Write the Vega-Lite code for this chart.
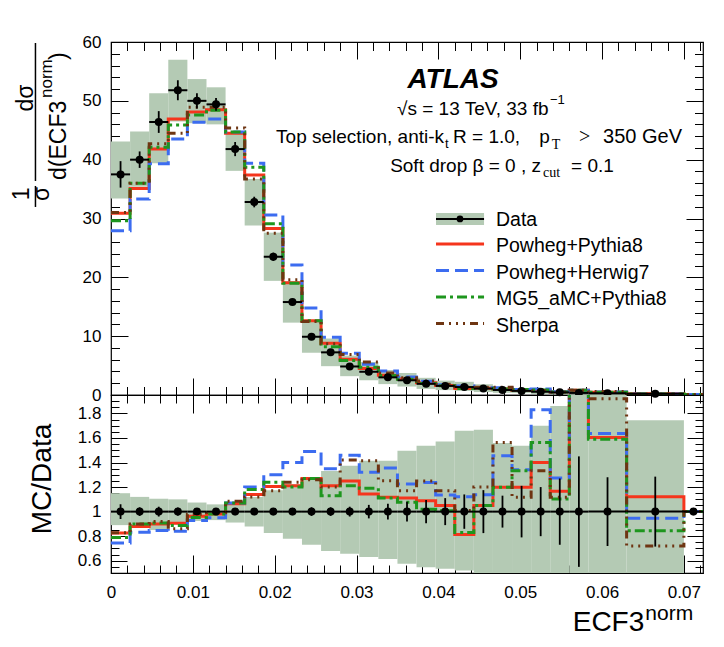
{
  "$schema": "https://vega.github.io/schema/vega-lite/v6.json",
  "padding": {"left": 10, "top": 32, "right": 5, "bottom": 5},
  "spacing": 0,
  "bounds": "flush",
  "config": {
    "view": {"stroke": "black", "strokeWidth": 1.2},
    "font": "Liberation Sans",
    "axis": {"grid": false, "domain": false, "labelFlush": false, "labelFont": "Liberation Sans", "labelFontSize": 17, "labelColor": "black", "tickColor": "black", "tickWidth": 1, "titleFont": "Liberation Sans", "titleColor": "black", "titleFontWeight": "normal", "zindex": 3},
    "text": {"font": "Liberation Sans", "color": "black"}
  },
  "datasets": {
    "hist": [
      {"lo": 0, "hi": 0.002333, "c": 0.001167, "data": 37.5, "dlo": 33.4, "dhi": 43.1, "elo": 35.25, "ehi": 39.75, "Powheg+Pythia8": 30.9, "Powheg+Herwig7": 27.9, "MG5_aMC+Pythia8": 29.6, "Sherpa": 31.0},
      {"lo": 0.002333, "hi": 0.004667, "c": 0.0035, "data": 40.0, "dlo": 35.4, "dhi": 44.8, "elo": 38.6, "ehi": 41.4, "Powheg+Pythia8": 35.1, "Powheg+Herwig7": 33.3, "MG5_aMC+Pythia8": 36.0, "Sherpa": 36.0},
      {"lo": 0.004667, "hi": 0.007, "c": 0.005833, "data": 46.4, "dlo": 39.4, "dhi": 51.3, "elo": 44.55, "ehi": 48.25, "Powheg+Pythia8": 41.8, "Powheg+Herwig7": 39.3, "MG5_aMC+Pythia8": 42.1, "Sherpa": 42.7},
      {"lo": 0.007, "hi": 0.009333, "c": 0.008167, "data": 51.8, "dlo": 46.5, "dhi": 57.0, "elo": 50.1, "ehi": 53.5, "Powheg+Pythia8": 46.9, "Powheg+Herwig7": 43.5, "MG5_aMC+Pythia8": 45.9, "Sherpa": 44.5},
      {"lo": 0.009333, "hi": 0.011667, "c": 0.0105, "data": 50.0, "dlo": 46.2, "dhi": 53.7, "elo": 48.7, "ehi": 51.3, "Powheg+Pythia8": 48.1, "Powheg+Herwig7": 46.35, "MG5_aMC+Pythia8": 47.6, "Sherpa": 48.9},
      {"lo": 0.011667, "hi": 0.014, "c": 0.012833, "data": 49.4, "dlo": 46.0, "dhi": 52.3, "elo": 48.3, "ehi": 50.5, "Powheg+Pythia8": 48.5, "Powheg+Herwig7": 46.9, "MG5_aMC+Pythia8": 48.4, "Sherpa": 48.9},
      {"lo": 0.014, "hi": 0.016333, "c": 0.015167, "data": 41.8, "dlo": 38.1, "dhi": 44.5, "elo": 40.6, "ehi": 43.0, "Powheg+Pythia8": 44.5, "Powheg+Herwig7": 44.7, "MG5_aMC+Pythia8": 44.7, "Sherpa": 45.4},
      {"lo": 0.016333, "hi": 0.018667, "c": 0.0175, "data": 32.8, "dlo": 28.8, "dhi": 36.7, "elo": 31.9, "ehi": 33.7, "Powheg+Pythia8": 37.4, "Powheg+Herwig7": 39.4, "MG5_aMC+Pythia8": 38.7, "Sherpa": 36.7},
      {"lo": 0.018667, "hi": 0.021, "c": 0.019833, "data": 23.5, "dlo": 19.4, "dhi": 27.6, "elo": 22.8, "ehi": 24.2, "Powheg+Pythia8": 28.3, "Powheg+Herwig7": 30.6, "MG5_aMC+Pythia8": 29.1, "Sherpa": 27.5},
      {"lo": 0.021, "hi": 0.023333, "c": 0.022167, "data": 15.8, "dlo": 12.3, "dhi": 19.3, "elo": 15.3, "ehi": 16.3, "Powheg+Pythia8": 19.1, "Powheg+Herwig7": 22.1, "MG5_aMC+Pythia8": 19.0, "Sherpa": 19.6},
      {"lo": 0.023333, "hi": 0.025667, "c": 0.0245, "data": 9.9, "dlo": 7.2, "dhi": 12.6, "elo": 9.55, "ehi": 10.25, "Powheg+Pythia8": 12.6, "Powheg+Herwig7": 14.8, "MG5_aMC+Pythia8": 12.6, "Sherpa": 12.5},
      {"lo": 0.025667, "hi": 0.028, "c": 0.026833, "data": 7.25, "dlo": 4.9, "dhi": 9.6, "elo": 7.0, "ehi": 7.5, "Powheg+Pythia8": 8.8, "Powheg+Herwig7": 9.8, "MG5_aMC+Pythia8": 8.2, "Sherpa": 8.7},
      {"lo": 0.028, "hi": 0.030333, "c": 0.029167, "data": 4.85, "dlo": 3.2, "dhi": 6.7, "elo": 4.66, "ehi": 5.04, "Powheg+Pythia8": 6.06, "Powheg+Herwig7": 7.08, "MG5_aMC+Pythia8": 5.87, "Sherpa": 6.89},
      {"lo": 0.030333, "hi": 0.032667, "c": 0.0315, "data": 3.95, "dlo": 2.5, "dhi": 5.6, "elo": 3.73, "ehi": 4.17, "Powheg+Pythia8": 4.52, "Powheg+Herwig7": 5.21, "MG5_aMC+Pythia8": 4.7, "Sherpa": 5.59},
      {"lo": 0.032667, "hi": 0.035, "c": 0.033833, "data": 3.0, "dlo": 1.85, "dhi": 4.25, "elo": 2.8, "ehi": 3.2, "Powheg+Pythia8": 3.35, "Powheg+Herwig7": 4.07, "MG5_aMC+Pythia8": 3.33, "Sherpa": 3.76},
      {"lo": 0.035, "hi": 0.037333, "c": 0.036167, "data": 2.5, "dlo": 1.44, "dhi": 3.74, "elo": 2.3, "ehi": 2.7, "Powheg+Pythia8": 2.78, "Powheg+Herwig7": 3.06, "MG5_aMC+Pythia8": 2.69, "Sherpa": 2.93},
      {"lo": 0.037333, "hi": 0.039667, "c": 0.0385, "data": 1.9, "dlo": 1.04, "dhi": 2.92, "elo": 1.72, "ehi": 2.08, "Powheg+Pythia8": 2.07, "Powheg+Herwig7": 2.35, "MG5_aMC+Pythia8": 1.94, "Sherpa": 2.38},
      {"lo": 0.039667, "hi": 0.042, "c": 0.040833, "data": 1.55, "dlo": 0.83, "dhi": 2.44, "elo": 1.38, "ehi": 1.72, "Powheg+Pythia8": 1.63, "Powheg+Herwig7": 1.76, "MG5_aMC+Pythia8": 1.56, "Sherpa": 1.81},
      {"lo": 0.042, "hi": 0.044333, "c": 0.043167, "data": 1.35, "dlo": 0.7, "dhi": 2.24, "elo": 1.16, "ehi": 1.54, "Powheg+Pythia8": 1.1, "Powheg+Herwig7": 1.51, "MG5_aMC+Pythia8": 1.12, "Sherpa": 1.36},
      {"lo": 0.044333, "hi": 0.046667, "c": 0.0455, "data": 1.1, "dlo": 0.5, "dhi": 1.83, "elo": 0.91, "ehi": 1.29, "Powheg+Pythia8": 1.15, "Powheg+Herwig7": 1.25, "MG5_aMC+Pythia8": 1.16, "Sherpa": 1.32},
      {"lo": 0.046667, "hi": 0.049, "c": 0.047833, "data": 0.85, "dlo": 0.37, "dhi": 1.33, "elo": 0.74, "ehi": 0.96, "Powheg+Pythia8": 1.02, "Powheg+Herwig7": 1.24, "MG5_aMC+Pythia8": 1.02, "Sherpa": 1.33},
      {"lo": 0.049, "hi": 0.051333, "c": 0.050167, "data": 0.7, "dlo": 0.32, "dhi": 1.08, "elo": 0.55, "ehi": 0.85, "Powheg+Pythia8": 0.84, "Powheg+Herwig7": 0.94, "MG5_aMC+Pythia8": 0.93, "Sherpa": 0.78},
      {"lo": 0.051333, "hi": 0.053667, "c": 0.0525, "data": 0.55, "dlo": 0.17, "dhi": 0.94, "elo": 0.44, "ehi": 0.66, "Powheg+Pythia8": 0.77, "Powheg+Herwig7": 1.01, "MG5_aMC+Pythia8": 0.86, "Sherpa": 0.73},
      {"lo": 0.053667, "hi": 0.056, "c": 0.054833, "data": 0.45, "dlo": 0.06, "dhi": 0.84, "elo": 0.33, "ehi": 0.57, "Powheg+Pythia8": 0.52, "Powheg+Herwig7": 0.57, "MG5_aMC+Pythia8": 0.5, "Sherpa": 0.5},
      {"lo": 0.056, "hi": 0.058333, "c": 0.057167, "data": 0.35, "dlo": 0.0, "dhi": 0.7, "elo": 0.19, "ehi": 0.51, "Powheg+Pythia8": 0.8, "Powheg+Herwig7": 0.82, "MG5_aMC+Pythia8": 0.79, "Sherpa": 0.81},
      {"lo": 0.058333, "hi": 0.063, "c": 0.060667, "data": 0.3, "dlo": 0.0, "dhi": 0.6, "elo": 0.22, "ehi": 0.38, "Powheg+Pythia8": 0.48, "Powheg+Herwig7": 0.49, "MG5_aMC+Pythia8": 0.48, "Sherpa": 0.58},
      {"lo": 0.063, "hi": 0.07, "c": 0.0665, "data": 0.2, "dlo": 0.05, "dhi": 0.35, "elo": 0.14, "ehi": 0.26, "Powheg+Pythia8": 0.22, "Powheg+Herwig7": 0.19, "MG5_aMC+Pythia8": 0.17, "Sherpa": 0.14},
      {"lo": 0.07, "hi": 0.072333, "c": 0.071167, "data": null, "dlo": null, "dhi": null, "elo": null, "ehi": null, "Powheg+Pythia8": 0.1, "Powheg+Herwig7": 0.1, "MG5_aMC+Pythia8": 0.1, "Sherpa": 0.1},
      {"lo": 0.072333, "hi": null, "c": null, "data": null, "dlo": null, "dhi": null, "elo": null, "ehi": null, "Powheg+Pythia8": 0.1, "Powheg+Herwig7": 0.1, "MG5_aMC+Pythia8": 0.1, "Sherpa": 0.1}
    ],
    "ratio": [
      {"lo": 0, "hi": 0.002333, "c": 0.001167, "one": 1, "blo": 0.89, "bhi": 1.15, "elo": 0.94, "ehi": 1.06, "Powheg+Pythia8": 0.825, "Powheg+Herwig7": 0.745, "MG5_aMC+Pythia8": 0.79, "Sherpa": 0.827},
      {"lo": 0.002333, "hi": 0.004667, "c": 0.0035, "one": 1, "blo": 0.885, "bhi": 1.12, "elo": 0.965, "ehi": 1.035, "Powheg+Pythia8": 0.878, "Powheg+Herwig7": 0.832, "MG5_aMC+Pythia8": 0.9, "Sherpa": 0.9},
      {"lo": 0.004667, "hi": 0.007, "c": 0.005833, "one": 1, "blo": 0.85, "bhi": 1.105, "elo": 0.96, "ehi": 1.04, "Powheg+Pythia8": 0.9, "Powheg+Herwig7": 0.846, "MG5_aMC+Pythia8": 0.908, "Sherpa": 0.92},
      {"lo": 0.007, "hi": 0.009333, "c": 0.008167, "one": 1, "blo": 0.897, "bhi": 1.1, "elo": 0.967, "ehi": 1.033, "Powheg+Pythia8": 0.905, "Powheg+Herwig7": 0.84, "MG5_aMC+Pythia8": 0.886, "Sherpa": 0.86},
      {"lo": 0.009333, "hi": 0.011667, "c": 0.0105, "one": 1, "blo": 0.924, "bhi": 1.074, "elo": 0.974, "ehi": 1.026, "Powheg+Pythia8": 0.962, "Powheg+Herwig7": 0.927, "MG5_aMC+Pythia8": 0.952, "Sherpa": 0.978},
      {"lo": 0.011667, "hi": 0.014, "c": 0.012833, "one": 1, "blo": 0.931, "bhi": 1.059, "elo": 0.978, "ehi": 1.022, "Powheg+Pythia8": 0.981, "Powheg+Herwig7": 0.95, "MG5_aMC+Pythia8": 0.98, "Sherpa": 0.99},
      {"lo": 0.014, "hi": 0.016333, "c": 0.015167, "one": 1, "blo": 0.911, "bhi": 1.065, "elo": 0.971, "ehi": 1.029, "Powheg+Pythia8": 1.064, "Powheg+Herwig7": 1.07, "MG5_aMC+Pythia8": 1.07, "Sherpa": 1.085},
      {"lo": 0.016333, "hi": 0.018667, "c": 0.0175, "one": 1, "blo": 0.878, "bhi": 1.119, "elo": 0.972, "ehi": 1.028, "Powheg+Pythia8": 1.14, "Powheg+Herwig7": 1.2, "MG5_aMC+Pythia8": 1.18, "Sherpa": 1.12},
      {"lo": 0.018667, "hi": 0.021, "c": 0.019833, "one": 1, "blo": 0.826, "bhi": 1.174, "elo": 0.97, "ehi": 1.03, "Powheg+Pythia8": 1.204, "Powheg+Herwig7": 1.3, "MG5_aMC+Pythia8": 1.24, "Sherpa": 1.17},
      {"lo": 0.021, "hi": 0.023333, "c": 0.022167, "one": 1, "blo": 0.78, "bhi": 1.22, "elo": 0.97, "ehi": 1.03, "Powheg+Pythia8": 1.21, "Powheg+Herwig7": 1.4, "MG5_aMC+Pythia8": 1.2, "Sherpa": 1.24},
      {"lo": 0.023333, "hi": 0.025667, "c": 0.0245, "one": 1, "blo": 0.73, "bhi": 1.27, "elo": 0.965, "ehi": 1.035, "Powheg+Pythia8": 1.27, "Powheg+Herwig7": 1.49, "MG5_aMC+Pythia8": 1.27, "Sherpa": 1.26},
      {"lo": 0.025667, "hi": 0.028, "c": 0.026833, "one": 1, "blo": 0.68, "bhi": 1.33, "elo": 0.965, "ehi": 1.035, "Powheg+Pythia8": 1.21, "Powheg+Herwig7": 1.35, "MG5_aMC+Pythia8": 1.13, "Sherpa": 1.2},
      {"lo": 0.028, "hi": 0.030333, "c": 0.029167, "one": 1, "blo": 0.656, "bhi": 1.374, "elo": 0.96, "ehi": 1.04, "Powheg+Pythia8": 1.25, "Powheg+Herwig7": 1.46, "MG5_aMC+Pythia8": 1.21, "Sherpa": 1.42},
      {"lo": 0.030333, "hi": 0.032667, "c": 0.0315, "one": 1, "blo": 0.63, "bhi": 1.415, "elo": 0.945, "ehi": 1.055, "Powheg+Pythia8": 1.144, "Powheg+Herwig7": 1.32, "MG5_aMC+Pythia8": 1.19, "Sherpa": 1.415},
      {"lo": 0.032667, "hi": 0.035, "c": 0.033833, "one": 1, "blo": 0.615, "bhi": 1.415, "elo": 0.935, "ehi": 1.065, "Powheg+Pythia8": 1.117, "Powheg+Herwig7": 1.355, "MG5_aMC+Pythia8": 1.11, "Sherpa": 1.252},
      {"lo": 0.035, "hi": 0.037333, "c": 0.036167, "one": 1, "blo": 0.575, "bhi": 1.496, "elo": 0.92, "ehi": 1.08, "Powheg+Pythia8": 1.111, "Powheg+Herwig7": 1.225, "MG5_aMC+Pythia8": 1.076, "Sherpa": 1.17},
      {"lo": 0.037333, "hi": 0.039667, "c": 0.0385, "one": 1, "blo": 0.547, "bhi": 1.537, "elo": 0.905, "ehi": 1.095, "Powheg+Pythia8": 1.089, "Powheg+Herwig7": 1.238, "MG5_aMC+Pythia8": 1.02, "Sherpa": 1.25},
      {"lo": 0.039667, "hi": 0.042, "c": 0.040833, "one": 1, "blo": 0.534, "bhi": 1.572, "elo": 0.89, "ehi": 1.11, "Powheg+Pythia8": 1.049, "Powheg+Herwig7": 1.136, "MG5_aMC+Pythia8": 1.008, "Sherpa": 1.17},
      {"lo": 0.042, "hi": 0.044333, "c": 0.043167, "one": 1, "blo": 0.52, "bhi": 1.659, "elo": 0.86, "ehi": 1.14, "Powheg+Pythia8": 0.813, "Powheg+Herwig7": 1.122, "MG5_aMC+Pythia8": 0.83, "Sherpa": 1.01},
      {"lo": 0.044333, "hi": 0.046667, "c": 0.0455, "one": 1, "blo": 0.45, "bhi": 1.667, "elo": 0.825, "ehi": 1.175, "Powheg+Pythia8": 1.049, "Powheg+Herwig7": 1.138, "MG5_aMC+Pythia8": 1.05, "Sherpa": 1.2},
      {"lo": 0.046667, "hi": 0.049, "c": 0.047833, "one": 1, "blo": 0.44, "bhi": 1.56, "elo": 0.87, "ehi": 1.13, "Powheg+Pythia8": 1.198, "Powheg+Herwig7": 1.455, "MG5_aMC+Pythia8": 1.198, "Sherpa": 1.564},
      {"lo": 0.049, "hi": 0.051333, "c": 0.050167, "one": 1, "blo": 0.46, "bhi": 1.537, "elo": 0.79, "ehi": 1.21, "Powheg+Pythia8": 1.198, "Powheg+Herwig7": 1.341, "MG5_aMC+Pythia8": 1.333, "Sherpa": 1.117},
      {"lo": 0.051333, "hi": 0.053667, "c": 0.0525, "one": 1, "blo": 0.3, "bhi": 1.7, "elo": 0.8, "ehi": 1.2, "Powheg+Pythia8": 1.4, "Powheg+Herwig7": 1.829, "MG5_aMC+Pythia8": 1.564, "Sherpa": 1.333},
      {"lo": 0.053667, "hi": 0.056, "c": 0.054833, "one": 1, "blo": 0.14, "bhi": 1.86, "elo": 0.73, "ehi": 1.27, "Powheg+Pythia8": 1.165, "Powheg+Herwig7": 1.274, "MG5_aMC+Pythia8": 1.103, "Sherpa": 1.117},
      {"lo": 0.056, "hi": 0.058333, "c": 0.057167, "one": 1, "blo": 0.0, "bhi": 2.0, "elo": 0.55, "ehi": 1.45, "Powheg+Pythia8": 2.29, "Powheg+Herwig7": 2.34, "MG5_aMC+Pythia8": 2.26, "Sherpa": 2.31},
      {"lo": 0.058333, "hi": 0.063, "c": 0.060667, "one": 1, "blo": 0.0, "bhi": 2.0, "elo": 0.72, "ehi": 1.28, "Powheg+Pythia8": 1.604, "Powheg+Herwig7": 1.637, "MG5_aMC+Pythia8": 1.59, "Sherpa": 1.92},
      {"lo": 0.063, "hi": 0.07, "c": 0.0665, "one": 1, "blo": 0.25, "bhi": 1.745, "elo": 0.715, "ehi": 1.285, "Powheg+Pythia8": 1.122, "Powheg+Herwig7": 0.946, "MG5_aMC+Pythia8": 0.845, "Sherpa": 0.72},
      {"lo": 0.07, "hi": 0.072333, "c": 0.071167, "one": 1, "blo": null, "bhi": null, "elo": 0.97, "ehi": 1.03, "Powheg+Pythia8": 1, "Powheg+Herwig7": 1, "MG5_aMC+Pythia8": 1, "Sherpa": 1},
      {"lo": 0.072333, "hi": null, "c": null, "one": null, "blo": null, "bhi": null, "elo": null, "ehi": null, "Powheg+Pythia8": 1, "Powheg+Herwig7": 1, "MG5_aMC+Pythia8": 1, "Sherpa": 1}
    ]
  },
  "vconcat": [
    {
      "width": 592,
      "height": 353,
      "resolve": {"axis": {"x": "independent", "y": "independent"}},
      "layer": [
        {
          "data": {"name": "hist"},
          "mark": {"type": "rect", "color": "#b4cab4"},
          "encoding": {
            "x": {"field": "lo", "type": "quantitative", "scale": {"domain": [0, 0.072333], "nice": false, "zero": false},
                  "axis": {"orient": "bottom", "values": [0, 0.01, 0.02, 0.03, 0.04, 0.05, 0.06, 0.07], "labels": false, "tickSize": -17, "title": null}},
            "x2": {"field": "hi"},
            "y": {"field": "dlo", "type": "quantitative", "scale": {"domain": [0, 60], "nice": false, "zero": false},
                  "axis": {"orient": "left", "values": [0, 10, 20, 30, 40, 50, 60], "ticks": false, "labelPadding": 10, "title": null}},
            "y2": {"field": "dhi"}
          }
        },
        {
          "data": {"name": "hist"},
          "transform": [{"fold": ["Powheg+Pythia8", "Powheg+Herwig7", "MG5_aMC+Pythia8", "Sherpa"], "as": ["gen", "v"]}],
          "mark": {"type": "line", "interpolate": "step-after", "strokeWidth": 3, "clip": true},
          "encoding": {
            "x": {"field": "lo", "type": "quantitative",
                  "axis": {"orient": "bottom", "values": [0, 0.002, 0.004, 0.006, 0.008, 0.01, 0.012, 0.014, 0.016, 0.018, 0.02, 0.022, 0.024, 0.026, 0.028, 0.03, 0.032, 0.034, 0.036, 0.038, 0.04, 0.042, 0.044, 0.046, 0.048, 0.05, 0.052, 0.054, 0.056, 0.058, 0.06, 0.062, 0.064, 0.066, 0.068, 0.07, 0.072], "labels": false, "tickSize": -8.5, "title": null}},
            "y": {"field": "v", "type": "quantitative",
                  "axis": {"orient": "left", "values": [0, 10, 20, 30, 40, 50, 60], "labels": false, "tickSize": -17, "title": null}},
            "color": {"field": "gen", "type": "nominal", "legend": null,
                      "scale": {"domain": ["Powheg+Pythia8", "Powheg+Herwig7", "MG5_aMC+Pythia8", "Sherpa"], "range": ["#f5351c", "#3c6cf0", "#1e961e", "#6e3512"]}},
            "strokeDash": {"field": "gen", "type": "nominal", "legend": null,
                      "scale": {"domain": ["Powheg+Pythia8", "Powheg+Herwig7", "MG5_aMC+Pythia8", "Sherpa"], "range": [[1, 0], [13, 6], [10, 4, 3, 4], [8, 5, 2, 5, 2, 5, 2, 5]]}}
          }
        },
        {
          "data": {"name": "hist"},
          "mark": {"type": "rule", "color": "black", "strokeWidth": 1.8},
          "encoding": {
            "x": {"field": "c", "type": "quantitative",
                  "axis": {"orient": "top", "values": [0, 0.01, 0.02, 0.03, 0.04, 0.05, 0.06, 0.07], "labels": false, "tickSize": -17, "title": null}},
            "y": {"field": "elo", "type": "quantitative",
                  "axis": {"orient": "left", "values": [0, 2, 4, 6, 8, 10, 12, 14, 16, 18, 20, 22, 24, 26, 28, 30, 32, 34, 36, 38, 40, 42, 44, 46, 48, 50, 52, 54, 56, 58, 60], "labels": false, "tickSize": -8.5, "title": null}},
            "y2": {"field": "ehi"}
          }
        },
        {
          "data": {"name": "hist"},
          "mark": {"type": "rule", "color": "black", "strokeWidth": 2},
          "encoding": {
            "x": {"field": "lo", "type": "quantitative",
                  "axis": {"orient": "top", "values": [0, 0.002, 0.004, 0.006, 0.008, 0.01, 0.012, 0.014, 0.016, 0.018, 0.02, 0.022, 0.024, 0.026, 0.028, 0.03, 0.032, 0.034, 0.036, 0.038, 0.04, 0.042, 0.044, 0.046, 0.048, 0.05, 0.052, 0.054, 0.056, 0.058, 0.06, 0.062, 0.064, 0.066, 0.068, 0.07, 0.072], "labels": false, "tickSize": -8.5, "title": null}},
            "x2": {"field": "hi"},
            "y": {"field": "data", "type": "quantitative",
                  "axis": {"orient": "right", "values": [0, 10, 20, 30, 40, 50, 60], "labels": false, "tickSize": -17, "title": null}}
          }
        },
        {
          "data": {"name": "hist"},
          "mark": {"type": "circle", "color": "black", "opacity": 1, "size": 64},
          "encoding": {
            "x": {"field": "c", "type": "quantitative", "axis": null},
            "y": {"field": "data", "type": "quantitative",
                  "axis": {"orient": "right", "values": [0, 2, 4, 6, 8, 10, 12, 14, 16, 18, 20, 22, 24, 26, 28, 30, 32, 34, 36, 38, 40, 42, 44, 46, 48, 50, 52, 54, 56, 58, 60], "labels": false, "tickSize": -8.5, "title": null}}
          }
        },
        {
          "data": {"values": [{}]},
          "mark": {"type": "rect", "color": "#b4cab4"},
          "encoding": {"x": {"datum": 0.03971, "type": "quantitative", "axis": null}, "x2": {"datum": 0.04558}, "y": {"datum": 30.94, "type": "quantitative", "axis": null}, "y2": {"datum": 28.9}}
        },
        {
          "data": {"values": [{}]},
          "mark": {"type": "rule", "color": "black", "strokeWidth": 2},
          "encoding": {"x": {"datum": 0.03971, "type": "quantitative", "axis": null}, "x2": {"datum": 0.04558}, "y": {"datum": 29.92, "type": "quantitative", "axis": null}}
        },
        {
          "data": {"values": [{}]},
          "mark": {"type": "circle", "color": "black", "opacity": 1, "size": 45},
          "encoding": {"x": {"datum": 0.04264, "type": "quantitative", "axis": null}, "y": {"datum": 29.92, "type": "quantitative", "axis": null}}
        },
        {
          "data": {"values": [{}]},
          "mark": {"type": "rule", "strokeWidth": 3},
          "encoding": {"x": {"datum": 0.03971, "type": "quantitative", "axis": null}, "x2": {"datum": 0.04558}, "y": {"datum": 25.67, "type": "quantitative", "axis": null},
                       "color": {"datum": "Powheg+Pythia8", "legend": null}, "strokeDash": {"datum": "Powheg+Pythia8", "legend": null}}
        },
        {
          "data": {"values": [{}]},
          "mark": {"type": "rule", "strokeWidth": 3},
          "encoding": {"x": {"datum": 0.03971, "type": "quantitative", "axis": null}, "x2": {"datum": 0.04558}, "y": {"datum": 21.16, "type": "quantitative", "axis": null},
                       "color": {"datum": "Powheg+Herwig7", "legend": null}, "strokeDash": {"datum": "Powheg+Herwig7", "legend": null}}
        },
        {
          "data": {"values": [{}]},
          "mark": {"type": "rule", "strokeWidth": 3},
          "encoding": {"x": {"datum": 0.03971, "type": "quantitative", "axis": null}, "x2": {"datum": 0.04558}, "y": {"datum": 16.66, "type": "quantitative", "axis": null},
                       "color": {"datum": "MG5_aMC+Pythia8", "legend": null}, "strokeDash": {"datum": "MG5_aMC+Pythia8", "legend": null}}
        },
        {
          "data": {"values": [{}]},
          "mark": {"type": "rule", "strokeWidth": 3},
          "encoding": {"x": {"datum": 0.03971, "type": "quantitative", "axis": null}, "x2": {"datum": 0.04558}, "y": {"datum": 12.15, "type": "quantitative", "axis": null},
                       "color": {"datum": "Sherpa", "legend": null}, "strokeDash": {"datum": "Sherpa", "legend": null}}
        },
        {
          "data": {"values": [{}]},
          "mark": {"type": "text", "text": ["Data", "Powheg+Pythia8", "Powheg+Herwig7", "MG5_aMC+Pythia8", "Sherpa"], "fontSize": 19.5, "lineHeight": 26.5, "align": "left", "baseline": "alphabetic"},
          "encoding": {"x": {"datum": 0.04704, "type": "quantitative", "axis": null}, "y": {"datum": 28.73, "type": "quantitative", "axis": null}}
        },
        {
          "data": {"values": [{}]},
          "mark": {"type": "text", "text": "ATLAS", "fontSize": 28, "fontWeight": "bold", "fontStyle": "italic", "align": "center", "baseline": "alphabetic"},
          "encoding": {"x": {"datum": 0.04179, "type": "quantitative", "axis": null}, "y": {"datum": 52.18, "type": "quantitative", "axis": null}}
        },
        {
          "data": {"values": [{}]},
          "mark": {"type": "text", "text": "√s = 13 TeV, 33 fb", "fontSize": 19, "align": "left", "baseline": "alphabetic"},
          "encoding": {"x": {"datum": 0.03495, "type": "quantitative", "axis": null}, "y": {"datum": 47.59, "type": "quantitative", "axis": null}}
        },
        {
          "data": {"values": [{}]},
          "mark": {"type": "text", "text": "−1", "fontSize": 13, "align": "left", "baseline": "alphabetic"},
          "encoding": {"x": {"datum": 0.05364, "type": "quantitative", "axis": null}, "y": {"datum": 49.46, "type": "quantitative", "axis": null}}
        },
        {
          "data": {"values": [{}]},
          "mark": {"type": "text", "text": "Top selection, anti-k", "fontSize": 19, "align": "right", "baseline": "alphabetic"},
          "encoding": {"x": {"datum": 0.04069, "type": "quantitative", "axis": null}, "y": {"datum": 42.84, "type": "quantitative", "axis": null}}
        },
        {
          "data": {"values": [{}]},
          "mark": {"type": "text", "text": "t", "fontSize": 13, "align": "left", "baseline": "alphabetic"},
          "encoding": {"x": {"datum": 0.04081, "type": "quantitative", "axis": null}, "y": {"datum": 41.99, "type": "quantitative", "axis": null}}
        },
        {
          "data": {"values": [{}]},
          "mark": {"type": "text", "text": "R  =  1.0,", "fontSize": 19, "align": "left", "baseline": "alphabetic"},
          "encoding": {"x": {"datum": 0.04179, "type": "quantitative", "axis": null}, "y": {"datum": 42.84, "type": "quantitative", "axis": null}}
        },
        {
          "data": {"values": [{}]},
          "mark": {"type": "text", "text": "p", "fontSize": 19, "align": "left", "baseline": "alphabetic"},
          "encoding": {"x": {"datum": 0.05232, "type": "quantitative", "axis": null}, "y": {"datum": 42.84, "type": "quantitative", "axis": null}}
        },
        {
          "data": {"values": [{}]},
          "mark": {"type": "text", "text": "T", "font": "Liberation Serif", "fontSize": 14, "align": "left", "baseline": "alphabetic"},
          "encoding": {"x": {"datum": 0.05385, "type": "quantitative", "axis": null}, "y": {"datum": 41.82, "type": "quantitative", "axis": null}}
        },
        {
          "data": {"values": [{}]},
          "mark": {"type": "text", "text": ">", "font": "Liberation Serif", "fontSize": 20, "align": "left", "baseline": "alphabetic"},
          "encoding": {"x": {"datum": 0.05718, "type": "quantitative", "axis": null}, "y": {"datum": 42.84, "type": "quantitative", "axis": null}}
        },
        {
          "data": {"values": [{}]},
          "mark": {"type": "text", "text": "350 GeV", "fontSize": 20, "align": "left", "baseline": "alphabetic"},
          "encoding": {"x": {"datum": 0.06012, "type": "quantitative", "axis": null}, "y": {"datum": 42.84, "type": "quantitative", "axis": null}}
        },
        {
          "data": {"values": [{}]},
          "mark": {"type": "text", "text": "Soft drop β = 0 , z", "fontSize": 19, "align": "right", "baseline": "alphabetic"},
          "encoding": {"x": {"datum": 0.05254, "type": "quantitative", "axis": null}, "y": {"datum": 37.91, "type": "quantitative", "axis": null}}
        },
        {
          "data": {"values": [{}]},
          "mark": {"type": "text", "text": "cut", "font": "Liberation Serif", "fontSize": 14, "align": "left", "baseline": "alphabetic"},
          "encoding": {"x": {"datum": 0.05279, "type": "quantitative", "axis": null}, "y": {"datum": 37.06, "type": "quantitative", "axis": null}}
        },
        {
          "data": {"values": [{}]},
          "mark": {"type": "text", "text": "= 0.1", "fontSize": 19, "align": "left", "baseline": "alphabetic"},
          "encoding": {"x": {"datum": 0.05621, "type": "quantitative", "axis": null}, "y": {"datum": 37.91, "type": "quantitative", "axis": null}}
        },
        {
          "data": {"values": [{}]},
          "mark": {"type": "text", "text": "1", "fontSize": 23, "angle": 270, "align": "center", "baseline": "alphabetic"},
          "encoding": {"x": {"datum": -0.01002, "type": "quantitative", "axis": null}, "y": {"datum": 34.17, "type": "quantitative", "axis": null}}
        },
        {
          "data": {"values": [{}]},
          "mark": {"type": "text", "text": "σ", "fontSize": 23, "angle": 270, "align": "center", "baseline": "alphabetic"},
          "encoding": {"x": {"datum": -0.00758, "type": "quantitative", "axis": null}, "y": {"datum": 34.17, "type": "quantitative", "axis": null}}
        },
        {
          "data": {"values": [{}]},
          "mark": {"type": "text", "text": "dσ", "fontSize": 23, "angle": 270, "align": "center", "baseline": "alphabetic"},
          "encoding": {"x": {"datum": -0.00953, "type": "quantitative", "axis": null}, "y": {"datum": 50.48, "type": "quantitative", "axis": null}}
        },
        {
          "data": {"values": [{}]},
          "mark": {"type": "text", "text": "d(ECF3", "fontSize": 23, "angle": 270, "align": "left", "baseline": "alphabetic"},
          "encoding": {"x": {"datum": -0.0055, "type": "quantitative", "axis": null}, "y": {"datum": 36.55, "type": "quantitative", "axis": null}}
        },
        {
          "data": {"values": [{}]},
          "mark": {"type": "text", "text": "norm", "fontSize": 17, "angle": 270, "align": "left", "baseline": "alphabetic"},
          "encoding": {"x": {"datum": -0.00721, "type": "quantitative", "axis": null}, "y": {"datum": 50.48, "type": "quantitative", "axis": null}}
        },
        {
          "data": {"values": [{}]},
          "mark": {"type": "text", "text": ")", "fontSize": 23, "angle": 270, "align": "left", "baseline": "alphabetic"},
          "encoding": {"x": {"datum": -0.0055, "type": "quantitative", "axis": null}, "y": {"datum": 56.94, "type": "quantitative", "axis": null}}
        },
        {
          "data": {"values": [{}]},
          "mark": {"type": "rule", "color": "black", "strokeWidth": 1.5},
          "encoding": {"x": {"datum": -0.00923, "type": "quantitative", "axis": null}, "y": {"datum": 35.53, "type": "quantitative", "axis": null}, "y2": {"datum": 31.96}}
        },
        {
          "data": {"values": [{}]},
          "mark": {"type": "rule", "color": "black", "strokeWidth": 1.5},
          "encoding": {"x": {"datum": -0.00923, "type": "quantitative", "axis": null}, "y": {"datum": 59.83, "type": "quantitative", "axis": null}, "y2": {"datum": 36.38}}
        }
      ]
    },
    {
      "width": 592,
      "height": 178,
      "resolve": {"axis": {"x": "independent", "y": "independent"}},
      "layer": [
        {
          "data": {"name": "ratio"},
          "mark": {"type": "rect", "color": "#b4cab4", "clip": true},
          "encoding": {
            "x": {"field": "lo", "type": "quantitative", "scale": {"domain": [0, 0.072333], "nice": false, "zero": false},
                  "axis": {"orient": "bottom", "values": [0, 0.01, 0.02, 0.03, 0.04, 0.05, 0.06, 0.07], "ticks": false, "labelPadding": 11, "labelExpr": "datum.value === 0 ? '0' : format(datum.value, '.2f')", "title": null}},
            "x2": {"field": "hi"},
            "y": {"field": "blo", "type": "quantitative", "scale": {"domain": [0.5, 1.95], "nice": false, "zero": false},
                  "axis": {"orient": "left", "values": [0.6, 0.8, 1, 1.2, 1.4, 1.6, 1.8], "ticks": false, "labelPadding": 10, "labelExpr": "format(datum.value, '~g')", "title": "MC/Data", "titleFontSize": 28, "titlePadding": 21, "titleY": 83.5}},
            "y2": {"field": "bhi"}
          }
        },
        {
          "data": {"name": "ratio"},
          "transform": [{"fold": ["Powheg+Pythia8", "Powheg+Herwig7", "MG5_aMC+Pythia8", "Sherpa"], "as": ["gen", "v"]}],
          "mark": {"type": "line", "interpolate": "step-after", "strokeWidth": 3, "clip": true},
          "encoding": {
            "x": {"field": "lo", "type": "quantitative",
                  "axis": {"orient": "bottom", "values": [0, 0.01, 0.02, 0.03, 0.04, 0.05, 0.06, 0.07], "labels": false, "tickSize": -18, "title": null}},
            "y": {"field": "v", "type": "quantitative",
                  "axis": {"orient": "left", "values": [0.6, 0.8, 1, 1.2, 1.4, 1.6, 1.8], "labels": false, "tickSize": -16, "title": null}},
            "color": {"field": "gen", "type": "nominal", "legend": null,
                      "scale": {"domain": ["Powheg+Pythia8", "Powheg+Herwig7", "MG5_aMC+Pythia8", "Sherpa"], "range": ["#f5351c", "#3c6cf0", "#1e961e", "#6e3512"]}},
            "strokeDash": {"field": "gen", "type": "nominal", "legend": null,
                      "scale": {"domain": ["Powheg+Pythia8", "Powheg+Herwig7", "MG5_aMC+Pythia8", "Sherpa"], "range": [[1, 0], [13, 6], [10, 4, 3, 4], [8, 5, 2, 5, 2, 5, 2, 5]]}}
          }
        },
        {
          "data": {"name": "ratio"},
          "mark": {"type": "rule", "color": "black", "strokeWidth": 2},
          "encoding": {
            "x": {"field": "lo", "type": "quantitative",
                  "axis": {"orient": "bottom", "values": [0, 0.002, 0.004, 0.006, 0.008, 0.01, 0.012, 0.014, 0.016, 0.018, 0.02, 0.022, 0.024, 0.026, 0.028, 0.03, 0.032, 0.034, 0.036, 0.038, 0.04, 0.042, 0.044, 0.046, 0.048, 0.05, 0.052, 0.054, 0.056, 0.058, 0.06, 0.062, 0.064, 0.066, 0.068, 0.07, 0.072], "labels": false, "tickSize": -8, "title": null}},
            "x2": {"field": "hi"},
            "y": {"field": "one", "type": "quantitative",
                  "axis": {"orient": "left", "values": [0.5, 0.55, 0.6, 0.65, 0.7, 0.75, 0.8, 0.85, 0.9, 0.95, 1, 1.05, 1.1, 1.15, 1.2, 1.25, 1.3, 1.35, 1.4, 1.45, 1.5, 1.55, 1.6, 1.65, 1.7, 1.75, 1.8, 1.85, 1.9, 1.95], "labels": false, "tickSize": -8, "title": null}}
          }
        },
        {
          "data": {"name": "ratio"},
          "mark": {"type": "rule", "color": "black", "strokeWidth": 1.8, "clip": true},
          "encoding": {
            "x": {"field": "c", "type": "quantitative",
                  "axis": {"orient": "top", "values": [0, 0.01, 0.02, 0.03, 0.04, 0.05, 0.06, 0.07], "labels": false, "tickSize": -18, "title": null}},
            "y": {"field": "elo", "type": "quantitative",
                  "axis": {"orient": "right", "values": [0.6, 0.8, 1, 1.2, 1.4, 1.6, 1.8], "labels": false, "tickSize": -16, "title": null}},
            "y2": {"field": "ehi"}
          }
        },
        {
          "data": {"name": "ratio"},
          "mark": {"type": "circle", "color": "black", "opacity": 1, "size": 64},
          "encoding": {
            "x": {"field": "c", "type": "quantitative",
                  "axis": {"orient": "top", "values": [0, 0.002, 0.004, 0.006, 0.008, 0.01, 0.012, 0.014, 0.016, 0.018, 0.02, 0.022, 0.024, 0.026, 0.028, 0.03, 0.032, 0.034, 0.036, 0.038, 0.04, 0.042, 0.044, 0.046, 0.048, 0.05, 0.052, 0.054, 0.056, 0.058, 0.06, 0.062, 0.064, 0.066, 0.068, 0.07, 0.072], "labels": false, "tickSize": -8, "title": null}},
            "y": {"field": "one", "type": "quantitative",
                  "axis": {"orient": "right", "values": [0.5, 0.55, 0.6, 0.65, 0.7, 0.75, 0.8, 0.85, 0.9, 0.95, 1, 1.05, 1.1, 1.15, 1.2, 1.25, 1.3, 1.35, 1.4, 1.45, 1.5, 1.55, 1.6, 1.65, 1.7, 1.75, 1.8, 1.85, 1.9, 1.95], "labels": false, "tickSize": -8, "title": null}}
          }
        },
        {
          "data": {"values": [{}]},
          "mark": {"type": "text", "text": "ECF3", "fontSize": 28, "align": "right", "baseline": "alphabetic"},
          "encoding": {"x": {"datum": 0.06516, "type": "quantitative", "axis": null}, "y": {"datum": 0.0316, "type": "quantitative", "axis": null}}
        },
        {
          "data": {"values": [{}]},
          "mark": {"type": "text", "text": "norm", "fontSize": 21, "align": "left", "baseline": "alphabetic"},
          "encoding": {"x": {"datum": 0.06528, "type": "quantitative", "axis": null}, "y": {"datum": 0.115, "type": "quantitative", "axis": null}}
        }
      ]
    }
  ]
}
